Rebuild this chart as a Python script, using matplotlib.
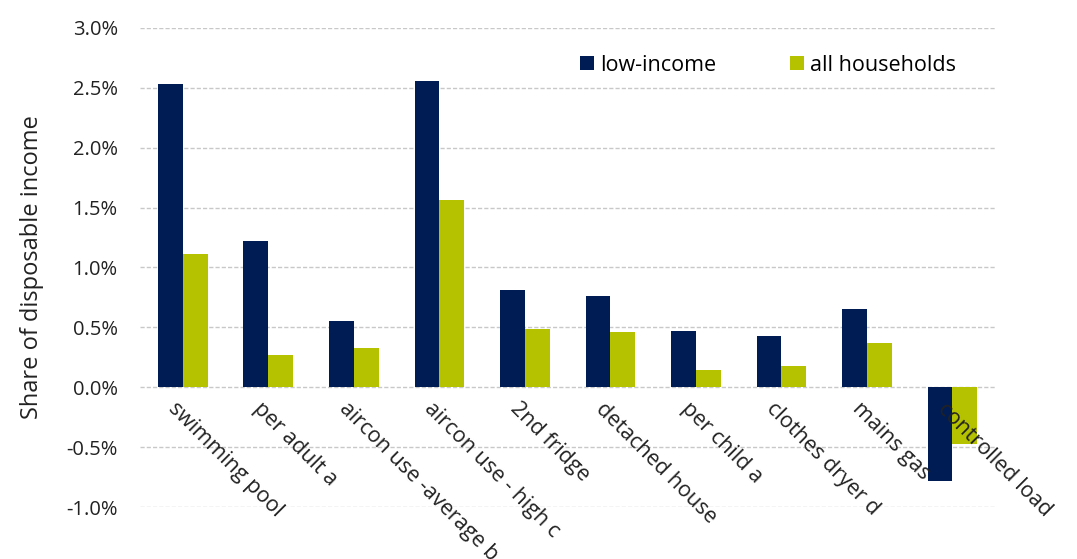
import numpy as np
import matplotlib
matplotlib.use("Agg")
import matplotlib.pyplot as plt
from matplotlib.ticker import FuncFormatter

plt.rcParams["font.family"] = ["Open Sans", "DejaVu Sans"]

NAVY = "#001C54"
LIME = "#B5C200"

categories = ["swimming pool", "per adult a", "aircon use -average b", "aircon use - high c",
              "2nd fridge", "detached house", "per child a", "clothes dryer d",
              "mains gas", "controlled load"]
low_income = [2.53, 1.22, 0.55, 2.56, 0.81, 0.76, 0.47, 0.43, 0.65, -0.78]
all_households = [1.11, 0.27, 0.33, 1.56, 0.49, 0.46, 0.14, 0.18, 0.37, -0.47]
yticks = [-1.0, -0.5, 0.0, 0.5, 1.0, 1.5, 2.0, 2.5, 3.0]

fig = plt.figure(figsize=(10.77, 5.59), dpi=100)
ax = fig.add_axes([0.13, 0.093, 0.794, 0.857])

x = np.arange(len(categories))
w = 0.29
ax.bar(x - w / 2, low_income, w, color=NAVY, label="low-income", zorder=3)
ax.bar(x + w / 2, all_households, w, color=LIME, label="all households", zorder=3)

ax.set_xlim(-0.5, len(categories) - 0.5)
ax.set_ylim(-1.0, 3.0)
ax.set_yticks(yticks)
ax.yaxis.set_major_formatter(FuncFormatter(lambda v, p: f"{v:.1f}%"))
ax.tick_params(axis="y", length=0, labelsize=14.5, pad=16, labelcolor="#222222")
ax.set_xticks([])
ax.grid(axis="y", color="#c8c8c8", ls=(0, (3, 1.5)), lw=1, zorder=0)
for s in ax.spines.values():
    s.set_visible(False)

ax.set_ylabel("Share of disposable income", fontsize=17, labelpad=16, color="#222222")

# category labels hang off the zero line, Excel style
for xi, lab in zip(x, categories):
    ax.annotate(lab, xy=(xi, 0), xytext=(-3, -8), textcoords="offset points",
                rotation=-45, rotation_mode="anchor", ha="left", va="top",
                fontsize=15.5, color="#222222")

ax.legend(loc="upper left", bbox_to_anchor=(0.492, 0.985), ncol=2, frameon=False,
          fontsize=15.5, handlelength=0.65, handleheight=0.65, handletextpad=0.3,
          columnspacing=3.4)

fig.savefig("out.png", dpi=100)
